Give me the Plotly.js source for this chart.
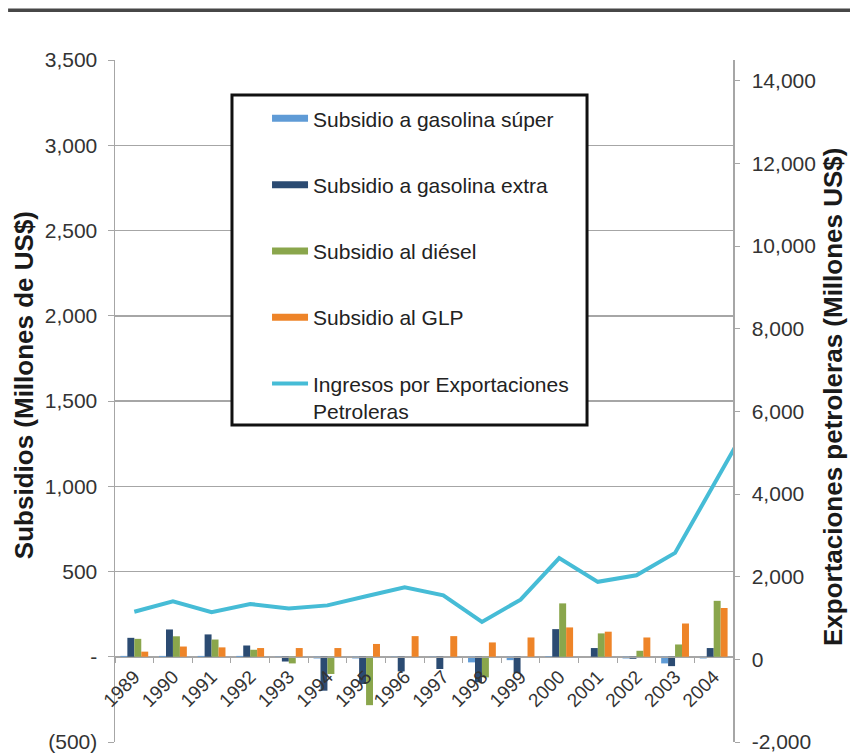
<!DOCTYPE html>
<html>
<head>
<meta charset="utf-8">
<script src="https://cdn.plot.ly/plotly-3.0.1.min.js"></script>
<style>
  html, body { margin: 0; padding: 0; background: #fff; }
  #chart { width: 850px; height: 754px; }
</style>
</head>
<body>
<div id="chart"></div>
<script>
// Años de la serie
const years = ['1989','1990','1991','1992','1993','1994','1995','1996',
               '1997','1998','1999','2000','2001','2002','2003','2004'];

// Subsidios a combustibles (millones de US$)
const subsidioSuper  = [5, 5, 5, 5, -5, -10, -10, -5, -5, -33, -20, 3, 0, -10, -39, -10];
const subsidioExtra  = [111, 160, 131, 66, -28, -199, -160, -86, -72, -150, -96, 162, 51, -12, -55, 51];
const subsidioDiesel = [105, 120, 101, 41, -39, -101, -284, 0, 0, -121, 0, 313, 137, 35, 72, 328];
const subsidioGLP    = [30, 60, 55, 51, 51, 51, 75, 121, 121, 84, 113, 172, 147, 113, 195, 286];

// Ingresos por exportaciones petroleras (millones de US$); la serie sigue hasta 2005
const exportYears = years.concat(['2005']);
const exportaciones = [1150, 1405, 1140, 1340, 1230, 1305, 1525, 1745, 1550, 905,
                       1445, 2450, 1875, 2035, 2575, 4235, 5870];

// Ejes
const leftTicks  = [-500, 0, 500, 1000, 1500, 2000, 2500, 3000, 3500];
const leftLabels = ['(500)', '-', '500', '1,000', '1,500', '2,000', '2,500', '3,000', '3,500'];
const rightTicks  = [-2000, 0, 2000, 4000, 6000, 8000, 10000, 12000, 14000];
const rightLabels = ['-2,000', '0', '2,000', '4,000', '6,000', '8,000', '10,000', '12,000', '14,000'];

const names = ['Subsidio a gasolina súper', 'Subsidio a gasolina extra',
               'Subsidio al diésel', 'Subsidio al GLP',
               'Ingresos por Exportaciones<br>Petroleras'];
const colors = ['#5f9bd6', '#2b4b72', '#8aa64c', '#ee8428', '#46bcd6'];

const FONT = 'Liberation Sans, Arial, sans-serif';
const leftRange = [-500, 3500];
const rightRange = [-2000, 14500];
const zeroPos = (0 - leftRange[0]) / (leftRange[1] - leftRange[0]);

const series = [subsidioSuper, subsidioExtra, subsidioDiesel, subsidioGLP];

const traces = series.map((vals, i) => ({
  type: 'bar',
  x: years,
  y: vals,
  name: names[i],
  marker: { color: colors[i] },
  showlegend: false,
  hoverinfo: 'x+y+name'
}));

// Legend swatches drawn as thick strokes
series.forEach((vals, i) => {
  traces.push({
    type: 'scatter',
    mode: 'lines',
    x: [null],
    y: [null],
    name: names[i],
    line: { color: colors[i], width: 7 },
    legendgroup: 'g' + i,
    legendrank: i + 1,
    showlegend: true,
    hoverinfo: 'skip'
  });
});

traces.push({
  type: 'scatter',
  mode: 'lines',
  x: exportYears,
  y: exportaciones,
  yaxis: 'y2',
  name: names[4],
  line: { color: colors[4], width: 4 },
  legendgroup: 'g4',
  legendrank: 5
});

const layout = {
  width: 850,
  height: 754,
  margin: { l: 115, r: 117, t: 60, b: 12 },
  paper_bgcolor: '#ffffff',
  plot_bgcolor: '#ffffff',
  font: { family: FONT, color: '#333333' },
  barmode: 'group',
  bargap: 0.28,
  bargroupgap: 0,
  showlegend: true,
  legend: {
    x: 0.246, xanchor: 'left',
    y: 0.944, yanchor: 'top',
    bgcolor: 'rgba(0,0,0,0)',
    borderwidth: 0,
    font: { family: FONT, size: 21, color: '#222222' },
    traceorder: 'grouped',
    tracegroupgap: 36,
    itemwidth: 36,
    valign: 'top'
  },
  xaxis: {
    type: 'category',
    categoryorder: 'array',
    categoryarray: exportYears,
    range: [-0.5, years.length - 0.5],
    anchor: 'free',
    position: zeroPos,
    showline: true,
    linecolor: '#a6a6a6',
    linewidth: 1.5,
    showgrid: false,
    ticks: 'outside',
    tickson: 'boundaries',
    ticklen: 5,
    tickcolor: '#a6a6a6',
    tickangle: -45,
    tickfont: { family: FONT, size: 19, color: '#333333' },
    fixedrange: true
  },
  yaxis: {
    range: leftRange,
    tickvals: leftTicks,
    ticktext: leftLabels,
    showline: true,
    linecolor: '#a6a6a6',
    linewidth: 1.5,
    showgrid: true,
    gridcolor: '#a6a6a6',
    gridwidth: 1.5,
    zeroline: false,
    ticks: 'outside',
    ticklen: 6,
    tickcolor: '#a6a6a6',
    ticklabelstandoff: 6,
    tickfont: { family: FONT, size: 21, color: '#333333' },
    fixedrange: true
  },
  yaxis2: {
    overlaying: 'y',
    side: 'right',
    range: rightRange,
    tickvals: rightTicks,
    ticktext: rightLabels,
    showline: true,
    linecolor: '#a6a6a6',
    linewidth: 1.5,
    showgrid: false,
    zeroline: false,
    ticks: 'outside',
    ticklen: 5,
    tickcolor: '#a6a6a6',
    ticklabelstandoff: 8,
    tickfont: { family: FONT, size: 21, color: '#333333' },
    fixedrange: true
  },
  shapes: [
    // Filete superior
    { type: 'line', xref: 'paper', yref: 'paper',
      x0: -0.173, x1: 1.2, y0: 1.073, y1: 1.073,
      line: { color: '#474747', width: 3.5 } },
    // Recuadro de la leyenda
    { type: 'rect', xref: 'paper', yref: 'paper', layer: 'above',
      x0: 0.1893, x1: 0.7638, y0: 0.4648, y1: 0.9487,
      fillcolor: '#ffffff',
      line: { color: '#111111', width: 3 } }
  ],
  annotations: [
    { xref: 'paper', yref: 'paper', x: -0.147, y: 0.5235,
      text: '<b>Subsidios (Millones de US$)</b>', textangle: -90,
      showarrow: false, xanchor: 'center', yanchor: 'middle',
      font: { family: FONT, size: 26, color: '#1a1a1a' } },
    { xref: 'paper', yref: 'paper', x: 1.162, y: 0.506,
      text: '<b>Exportaciones petroleras (Millones US$)</b>', textangle: -90,
      showarrow: false, xanchor: 'center', yanchor: 'middle',
      font: { family: FONT, size: 26, color: '#1a1a1a' } }
  ]
};

Plotly.newPlot('chart', traces, layout, { displayModeBar: false, staticPlot: true });
</script>
</body>
</html>
